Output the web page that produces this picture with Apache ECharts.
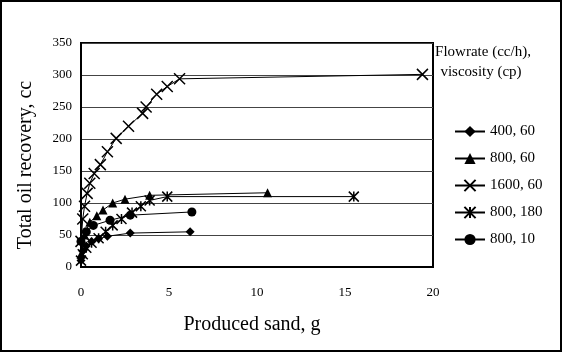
<!DOCTYPE html>
<html><head><meta charset="utf-8">
<script src="https://cdn.jsdelivr.net/npm/echarts@6/dist/echarts.min.js"></script>
<style>html,body{margin:0;padding:0;background:#fff}#c{width:562px;height:352px}</style>
</head><body><div id="c"></div>
<script>
const seriesNames = ['400, 60', '800, 60', '1600, 60', '800, 180', '800, 10'];
const s400_60 = [[0,10],[0.1,25],[0.3,33],[0.6,40],[1.0,44],[1.5,48],[2.8,53],[6.2,55]];
const s800_60 = [[0,20],[0.2,50],[0.5,70],[0.9,80],[1.25,89],[1.8,100],[2.5,106],[3.9,112],[10.6,116]];
const s1600_60 = [[0,40],[0.1,75],[0.2,95],[0.35,115],[0.5,131],[0.75,146],[1.1,160],[1.5,180],[2.0,201],[2.7,220],[3.5,240],[3.7,250],[4.3,270],[4.9,282],[5.6,294],[19.4,301]];
const s800_180 = [[0,10],[0.1,20],[0.3,30],[0.6,38],[1.0,45],[1.4,55],[1.8,65],[2.3,75],[2.9,85],[3.4,95],[3.9,104],[4.9,110],[15.5,110]];
const s800_10 = [[0,40],[0.3,55],[0.7,65],[1.65,73],[2.8,81],[6.3,86]];
const xTicks = {min:0, max:20, interval:5};
const yTicks = {min:0, max:350, interval:50};
const xTitle = 'Produced sand, g';
const yTitle = 'Total oil recovery, cc';
const legendTitle = ['Flowrate (cc/h),', 'viscosity (cp)'];

const FONT = '"Liberation Serif", "DejaVu Serif", serif';
const X_PATH = 'path://M0,0L10,10M10,0L0,10';
const AST_PATH = 'path://M0,0L10,10M10,0L0,10M5,0L5,10';
const datas = [s400_60, s800_60, s1600_60, s800_180, s800_10];
const symbols = ['diamond', 'triangle', X_PATH, AST_PATH, 'circle'];
const sizes = [9, 9, [11,11], [10,10], 9];

const chart = echarts.init(document.getElementById('c'));
chart.setOption({
  animation: false,
  backgroundColor: '#fff',
  textStyle: {fontFamily: FONT, color: '#000'},
  grid: {left: 81, right: 129, top: 43, bottom: 85, show: true, borderColor: '#000', borderWidth: 2, backgroundColor: 'transparent'},
  xAxis: {
    type: 'value', min: xTicks.min, max: xTicks.max, interval: xTicks.interval,
    axisLine: {show: true, lineStyle: {color: '#000', width: 2}},
    axisTick: {show: false},
    axisLabel: {fontFamily: FONT, fontSize: 13, color: '#000', margin: 19},
    splitLine: {show: false}
  },
  yAxis: {
    type: 'value', min: yTicks.min, max: yTicks.max, interval: yTicks.interval,
    axisLine: {show: true, lineStyle: {color: '#000', width: 2}},
    axisTick: {show: false},
    axisLabel: {fontFamily: FONT, fontSize: 13, color: '#000', margin: 9},
    splitLine: {show: true, lineStyle: {color: '#444', width: 1}}
  },
  legend: {
    orient: 'vertical', left: 449, top: 119,
    itemWidth: 30, itemHeight: 14, itemGap: 12,
    textStyle: {fontFamily: FONT, fontSize: 15, lineHeight: 14, color: '#000'},
    data: seriesNames
  },
  graphic: [
    {type: 'rect', shape: {x: 1, y: 1, width: 560, height: 350}, style: {fill: 'none', stroke: '#000', lineWidth: 2}, silent: true},
    {type: 'text', x: 483, y: 52, style: {text: legendTitle[0], font: '15px ' + FONT, fill: '#000', textAlign: 'center', textVerticalAlign: 'middle'}},
    {type: 'text', x: 481, y: 72, style: {text: legendTitle[1], font: '15px ' + FONT, fill: '#000', textAlign: 'center', textVerticalAlign: 'middle'}},
    {type: 'text', x: 252, y: 325, style: {text: xTitle, font: '20px ' + FONT, fill: '#000', textAlign: 'center', textVerticalAlign: 'middle'}},
    {type: 'text', x: 26, y: 165, rotation: Math.PI / 2, style: {text: yTitle, font: '20px ' + FONT, fill: '#000', textAlign: 'center', textVerticalAlign: 'middle'}}
  ],
  series: datas.map((d, i) => ({
    name: seriesNames[i], type: 'line', data: d,
    symbol: symbols[i], symbolSize: sizes[i], showSymbol: true,
    lineStyle: {color: '#000', width: 1},
    itemStyle: {color: '#000', borderColor: '#000', borderWidth: (i === 2 || i === 3) ? 1.5 : 0},
    z: 3
  }))
});
</script></body></html>
